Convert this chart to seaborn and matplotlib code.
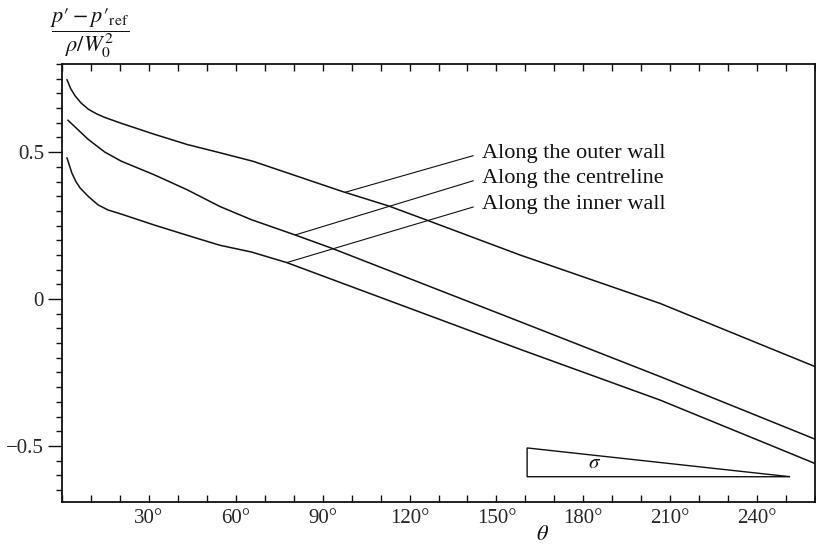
import numpy as np
import pandas as pd
import matplotlib
matplotlib.use("Agg")
import matplotlib.pyplot as plt
from matplotlib.patches import Polygon
from matplotlib.ticker import MultipleLocator, FixedLocator
import seaborn as sns

# Pressure coefficient along the bend, theta in degrees
theta_outer = [1.7, 3.0, 4.5, 6.5, 9.1, 12.0, 14.8, 20.5, 31.8, 43.2, 54.5, 65.9, 97.1, 112.7, 125.3, 158.1, 206.5, 260.0]
cp_outer = [0.747, 0.716, 0.692, 0.668, 0.646, 0.630, 0.618, 0.598, 0.561, 0.526, 0.498, 0.469, 0.365, 0.317, 0.271, 0.150, -0.015, -0.230]

theta_centre = [2.0, 4.8, 9.1, 14.8, 20.5, 31.8, 43.2, 54.5, 65.4, 80.5, 93.1, 158.1, 206.5, 260.0]
cp_centre = [0.609, 0.583, 0.543, 0.500, 0.469, 0.423, 0.372, 0.315, 0.270, 0.218, 0.173, -0.077, -0.264, -0.477]

theta_inner = [1.7, 3.4, 4.8, 6.25, 9.1, 12.5, 15.9, 20.5, 31.8, 43.2, 54.5, 65.4, 77.6, 158.1, 206.5, 247.9, 260.0]
cp_inner = [0.481, 0.429, 0.400, 0.378, 0.349, 0.320, 0.303, 0.289, 0.252, 0.217, 0.183, 0.160, 0.124, -0.171, -0.344, -0.511, -0.560]

curve_labels = ["Along the outer wall", "Along the centreline", "Along the inner wall"]

x_ticks = [30, 60, 90, 120, 150, 180, 210, 240]
x_tick_labels = ["30°", "60°", "90°", "120°", "150°", "180°", "210°", "240°"]
y_ticks = [-0.5, 0.0, 0.5]
y_tick_labels = ["\u22120.5", "0", "0.5"]

sns.set_theme(style="white")
plt.rcParams["font.family"] = ["Liberation Serif", "DejaVu Serif"]
plt.rcParams["mathtext.fontset"] = "stix"

frames = []
for lab, th, cp in zip(curve_labels, [theta_outer, theta_centre, theta_inner],
                       [cp_outer, cp_centre, cp_inner]):
    frames.append(pd.DataFrame({"theta": th, "cp": cp, "location": lab}))
df = pd.concat(frames, ignore_index=True)

fig = plt.figure(figsize=(8.16, 5.49), dpi=100)
fig.patch.set_facecolor("white")
ax = fig.add_axes([62 / 816, 47.3 / 549, 753 / 816, 437.7 / 549])
ax.set_facecolor("white")

sns.lineplot(data=df, x="theta", y="cp", hue="location",
             palette=["#111111"] * 3, legend=False, estimator=None,
             sort=False, lw=1.1, ax=ax)

ax.set_xlim(0, 260)
ax.set_ylim(-0.69, 0.80)
ax.set_xlabel("")
ax.set_ylabel("")

for sp in ax.spines.values():
    sp.set_visible(True)
    sp.set_color("#111111")
    sp.set_linewidth(1.3)

# x axis: labelled every 30 deg, ticks every 10 deg on top and bottom
ax.xaxis.set_major_locator(FixedLocator(x_ticks))
ax.set_xticklabels(x_tick_labels)
ax.xaxis.set_minor_locator(MultipleLocator(10))
ax.tick_params(axis="x", which="both", direction="in", top=True, bottom=True,
               length=5, width=1.0, color="#111111", labelsize=15, pad=5)

# y axis: labelled every 0.5, minor ticks every 0.05
ax.yaxis.set_major_locator(FixedLocator(y_ticks))
ax.set_yticklabels(y_tick_labels)
ax.yaxis.set_minor_locator(MultipleLocator(0.05))
ax.tick_params(axis="y", which="major", direction="out", left=True, right=False,
               length=10, width=1.0, color="#111111", labelsize=15, pad=3)
ax.tick_params(axis="y", which="minor", direction="out", left=True, right=False,
               length=4, width=1.0, color="#111111")

# leader lines from the labels to the curves
text_theta = 145.0
text_cp = [0.4965, 0.4115, 0.322]
leader_theta = [97.7, 80.5, 77.6]
for lab, th, cp, ty, lt in zip(curve_labels, [theta_outer, theta_centre, theta_inner],
                               [cp_outer, cp_centre, cp_inner], text_cp, leader_theta):
    ax.annotate(lab, xy=(lt, np.interp(lt, th, cp)), xytext=(text_theta, ty),
                ha="left", va="center", fontsize=16, color="#111111",
                arrowprops=dict(arrowstyle="-", color="#111111", lw=0.8,
                                relpos=(0, 0.5), shrinkA=4, shrinkB=0))

# wedge sketch of the bend angle
wedge = Polygon([(160.6, -0.507), (251.4, -0.605), (160.6, -0.605)],
                closed=True, fill=False, edgecolor="#111111", lw=1.0)
ax.add_patch(wedge)
ax.text(184.0, -0.560, r"$\sigma$", ha="center", va="center", fontsize=15, color="#111111")

fig.text(543 / 816, 1 - 535 / 549, r"$\theta$", ha="center", va="center",
         fontsize=16, color="#111111")
fig.text(90 / 816, 1 - 33 / 549, "$\\dfrac{p\u2032-p\u2032_{\\mathrm{ref}}}{\\rho/W_0^2}$",
         ha="center", va="center", fontsize=16, color="#111111")

fig.savefig("out.png", dpi=100, facecolor="white")
